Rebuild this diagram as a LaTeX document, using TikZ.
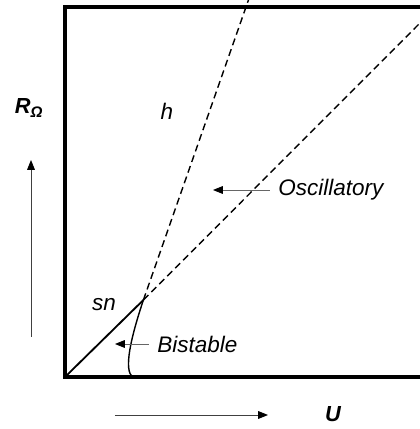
\documentclass[tikz,border=0pt]{standalone}
\usepackage{fontspec}
\setmainfont{Liberation Sans}
\usetikzlibrary{arrows.meta, positioning, calc}

\tikzset{
  lbl/.style={font=\fontsize{16}{18}\selectfont\itshape, inner sep=0pt},
  axlbl/.style={font=\fontsize{15.5}{18}\selectfont\bfseries\itshape, inner sep=0pt},
  pointer/.style={-{Triangle[length=7pt, width=5.5pt, color=black]}, line width=0.6pt, black!60},
  branch/.style={line width=1pt, dash pattern=on 5pt off 3pt}
}

\begin{document}
\begin{tikzpicture}[>=Stealth]
    \useasboundingbox (-1.625,-1.3) rectangle (8.875,9.425);
    \clip (-1.625,-1.3) rectangle (8.875,9.425);

    % Define points
    \coordinate (O) at (0,0);
    \coordinate (apex) at (1.96,1.925);
    \coordinate (foot) at (1.7,0);
    \coordinate (hend) at (4.525,9.25);
    \coordinate (oend) at (8.875,8.85);

    % Frame (open on the right)
    \draw[line width=2.2pt] (9.5,9.25) -- (0,9.25) -- (O) -- (9.5,0);

    % Saddle-node line and bistable boundary
    \draw[line width=1.3pt] (O) -- (apex);
    \draw[line width=1pt] (apex) .. controls (1.65,1.0) and (1.45,0.15) .. (foot);

    % Hopf / oscillatory boundaries
    \draw[branch] (apex) -- ($(apex)!1.05!(hend)$);
    \draw[branch] (apex) -- ($(apex)!1.05!(oend)$);

    % Region labels
    \node[lbl] (h) at (2.55,6.65) {h};
    \node[lbl] (sn) at (0.975,1.8) {sn};
    \node[lbl, anchor=west] (osc) at (5.325,4.675) {Oscillatory};
    \node[lbl, anchor=west] (bist) at (2.3,0.825) {Bistable};
    \coordinate (osctip) at (3.7,4.675);
    \coordinate (bisttip) at (1.25,0.825);
    \draw[pointer] ([xshift=-6pt]osc.west) -- (osctip);
    \draw[pointer] ([xshift=-6pt]bist.west) -- (bisttip);

    % Axis labels
    \node[axlbl] (R) at (-0.9,6.725) {R\textsubscript{\itshape Ω}};
    \node[axlbl] (U) at (6.7,-0.925) {U};
    \coordinate (ylo) at (-0.85,1.0);
    \coordinate (yhi) at (-0.85,5.425);
    \coordinate (xlo) at (1.25,-0.95);
    \coordinate (xhi) at (5.075,-0.95);
    \draw[pointer, black!75] (ylo) -- (yhi);
    \draw[pointer, black!75] (xlo) -- (xhi);

\end{tikzpicture}
\end{document}
